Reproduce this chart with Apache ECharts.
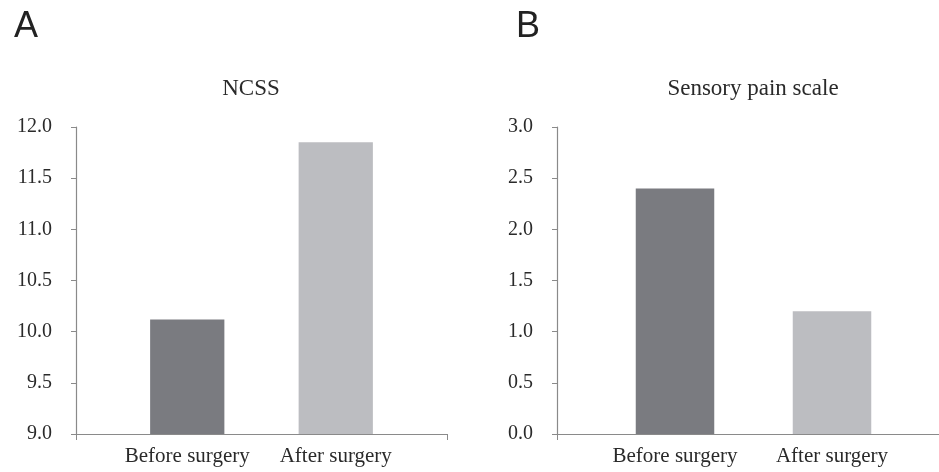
<!DOCTYPE html>
<html>
<head>
<meta charset="utf-8">
<script src="https://cdn.jsdelivr.net/npm/echarts@6/dist/echarts.min.js"></script>
<style>html,body{margin:0;padding:0;background:#fff;}#c{width:939px;height:472px;}</style>
</head>
<body>
<div id="c"></div>
<script>
const categories = ['Before surgery', 'After surgery'];
const ncssValues = [10.12, 11.85];
const painValues = [2.40, 1.20];
const ncssTicks = { min: 9.0, max: 12.0, interval: 0.5 };
const painTicks = { min: 0.0, max: 3.0, interval: 0.5 };
const barColors = ['#7a7b80', '#bcbdc1'];

const serif = '"Liberation Serif", "Times New Roman", serif';
const axisColor = '#8a8a8a';
const textColor = '#2a2a2a';

const chart = echarts.init(document.getElementById('c'));

function frameY(idx, t) {
  return {
    gridIndex: idx, type: 'value', min: t.min, max: t.max, interval: t.interval,
    axisLine: { show: true, lineStyle: { color: axisColor, width: 1.2 } },
    axisTick: { show: true, inside: false, length: 5, lineStyle: { color: axisColor } },
    splitLine: { show: false },
    axisLabel: { fontFamily: serif, fontSize: 20, color: textColor, margin: 24,
      formatter: v => v.toFixed(1) }
  };
}
function hiddenY(idx, t) {
  return { gridIndex: idx, type: 'value', min: t.min, max: t.max, show: false, splitLine: { show: false } };
}
function frameX(idx) {
  return {
    gridIndex: idx, type: 'category', data: [''], boundaryGap: true,
    axisLine: { show: true, lineStyle: { color: axisColor, width: 1.2 } },
    axisTick: { show: true, length: 6, lineStyle: { color: axisColor } },
    axisLabel: { show: false }
  };
}
function barX(idx) {
  return {
    gridIndex: idx, type: 'category', data: categories, boundaryGap: true,
    axisLine: { show: false }, axisTick: { show: false },
    axisLabel: { interval: 0, fontFamily: serif, fontSize: 21, color: textColor, margin: 12 }
  };
}
function barSeries(xi, yi, vals) {
  return {
    type: 'bar', xAxisIndex: xi, yAxisIndex: yi, barWidth: '50%',
    data: vals.map((v, i) => ({ value: v, itemStyle: { color: barColors[i] } })),
    silent: true
  };
}

chart.setOption({
  animation: false,
  backgroundColor: '#fff',
  title: [
    { text: 'A', left: 9, top: 4, textStyle: { fontFamily: '"Liberation Sans", sans-serif', fontSize: 36, fontWeight: 'normal', color: '#222' } },
    { text: 'B', left: 511, top: 4, textStyle: { fontFamily: '"Liberation Sans", sans-serif', fontSize: 36, fontWeight: 'normal', color: '#222' } },
    { text: 'NCSS', left: 246, top: 72, textAlign: 'center', textStyle: { fontFamily: serif, fontSize: 23, fontWeight: 'normal', color: textColor } },
    { text: 'Sensory pain scale', left: 748, top: 72, textAlign: 'center', textStyle: { fontFamily: serif, fontSize: 23, fontWeight: 'normal', color: textColor } }
  ],
  grid: [
    { left: 76, width: 371, top: 127, bottom: 38, containLabel: false },
    { left: 113, width: 297, top: 127, bottom: 38, containLabel: false },
    { left: 557, width: 393, top: 127, bottom: 38, containLabel: false },
    { left: 675 - 78.5, width: 314, top: 127, bottom: 38, containLabel: false }
  ],
  xAxis: [frameX(0), barX(1), frameX(2), barX(3)],
  yAxis: [frameY(0, ncssTicks), hiddenY(1, ncssTicks), frameY(2, painTicks), hiddenY(3, painTicks)],
  series: [
    barSeries(1, 1, ncssValues),
    barSeries(3, 3, painValues)
  ]
});
</script>
</body>
</html>
